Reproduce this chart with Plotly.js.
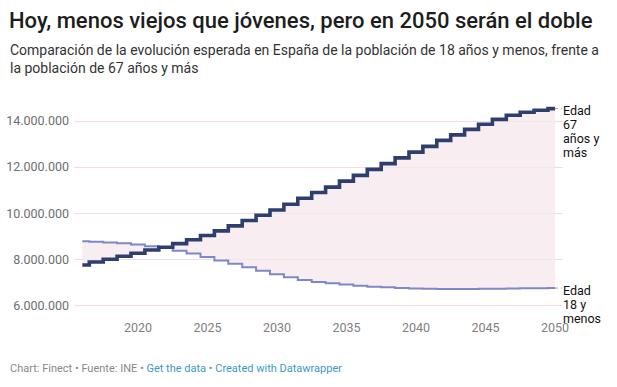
<!DOCTYPE html>
<html>
<head>
<meta charset="utf-8">
<script src="https://cdn.plot.ly/plotly-3.0.1.min.js"></script>
<style>
html,body{margin:0;padding:0;background:#fff;}
#chart{width:617px;height:387px;}
</style>
</head>
<body>
<div id="chart"></div>
<script>
const years = [2016,2017,2018,2019,2020,2021,2022,2023,2024,2025,2026,2027,2028,2029,2030,2031,2032,2033,2034,2035,2036,2037,2038,2039,2040,2041,2042,2043,2044,2045,2046,2047,2048,2049,2050];
const youngValues = [8780000,8760000,8730000,8700000,8640000,8570000,8510000,8370000,8250000,8100000,7950000,7810000,7650000,7500000,7350000,7220000,7100000,7010000,6960000,6900000,6850000,6810000,6780000,6750000,6730000,6720000,6710000,6710000,6710000,6720000,6720000,6730000,6740000,6740000,6750000];
const oldValues = [7750000,7880000,8000000,8130000,8260000,8400000,8520000,8680000,8850000,9030000,9230000,9450000,9680000,9910000,10140000,10390000,10650000,10900000,11130000,11390000,11640000,11900000,12150000,12400000,12650000,12900000,13160000,13400000,13640000,13860000,14070000,14250000,14380000,14470000,14540000];
const yTicks = [6000000,8000000,10000000,12000000,14000000];
const xTicks = [2020,2025,2030,2035,2040,2045,2050];
const oldLabelLines = ["Edad", "67", "años y", "más"];
const youngLabelLines = ["Edad", "18 y", "menos"];

const FONT = "Roboto, 'Open Sans', sans-serif";

const traces = [
  {x: years, y: youngValues, type: 'scatter', mode: 'lines',
   line: {shape: 'hvh', color: '#7d88c9', width: 2}, hoverinfo: 'skip', showlegend: false},
  {x: years, y: oldValues, type: 'scatter', mode: 'lines', fill: 'tonexty',
   fillcolor: 'rgba(245,232,238,0.75)',
   line: {shape: 'hvh', color: '#2e3f6e', width: 3.6}, hoverinfo: 'skip', showlegend: false}
];

const lastX = years[years.length-1];
const lastOld = oldValues[oldValues.length-1];
const lastYoung = youngValues[youngValues.length-1];

function labelAnns(lines, yval) {
  return lines.map((t, i) => ({
    xref: 'paper', yref: 'y', x: 1, y: yval, xanchor: 'left', yanchor: 'middle', showarrow: false,
    xshift: -2, yshift: -2 - i * 14, align: 'left', text: t,
    font: {family: FONT, size: 12.5, color: '#111'}
  }));
}

const layout = {
  width: 617, height: 387,
  margin: {l: 74, r: 54, t: 98, b: 69},
  paper_bgcolor: '#fff', plot_bgcolor: '#fff',
  separators: ',.',
  font: {family: FONT, color: '#333'},
  xaxis: {range: [2015.40, 2050.58], tickvals: xTicks, ticktext: xTicks.map(String),
    showgrid: false, zeroline: false, showline: false, ticks: '',
    tickfont: {size: 12.5, color: '#808080', family: FONT}, fixedrange: true},
  yaxis: {range: [5450000, 15000000], tickvals: yTicks, tickformat: ',.0f',
    showgrid: true, gridcolor: '#f0dce1', gridwidth: 1, zeroline: false, showline: false, ticks: '',
    ticklabelstandoff: 4,
    tickfont: {size: 12.5, color: '#6e6e6e', family: FONT}, fixedrange: true},
  shapes: [
    {type: 'line', xref: 'x', yref: 'y', x0: lastX, x1: lastX + 0.5, y0: lastOld, y1: lastOld,
     line: {color: '#999', width: 1, dash: 'dot'}},
    {type: 'line', xref: 'x', yref: 'y', x0: lastX, x1: lastX + 0.5, y0: lastYoung, y1: lastYoung,
     line: {color: '#999', width: 1, dash: 'dot'}}
  ],
  annotations: [
    {xref: 'paper', yref: 'paper', x: 0, y: 1, xanchor: 'left', yanchor: 'top', showarrow: false,
     xshift: -67, yshift: 92, align: 'left',
     text: 'Hoy, menos viejos que jóvenes, pero en 2050 serán el doble',
     font: {family: FONT, size: 22, color: '#1d1d1d', weight: 500}},
    {xref: 'paper', yref: 'paper', x: 0, y: 1, xanchor: 'left', yanchor: 'top', showarrow: false,
     xshift: -66, yshift: 58, align: 'left',
     text: 'Comparación de la evolución esperada en España de la población de 18 años y menos, frente a<br>la población de 67 años y más',
     font: {family: FONT, size: 14, color: '#333'}},
    ...labelAnns(oldLabelLines, lastOld),
    ...labelAnns(youngLabelLines, lastYoung),
    {xref: 'paper', yref: 'paper', x: 0, y: 0, xanchor: 'left', yanchor: 'top', showarrow: false,
     xshift: -66, yshift: -42, align: 'left',
     text: '<span style="color:#888">Chart: Finect • Fuente: INE • </span><span style="color:#3a9ac4">Get the data</span><span style="color:#888"> • </span><span style="color:#3a9ac4">Created with Datawrapper</span>',
     font: {family: FONT, size: 11, color: '#888'}}
  ]
};

Plotly.newPlot('chart', traces, layout, {displayModeBar: false, staticPlot: true});
</script>
</body>
</html>
